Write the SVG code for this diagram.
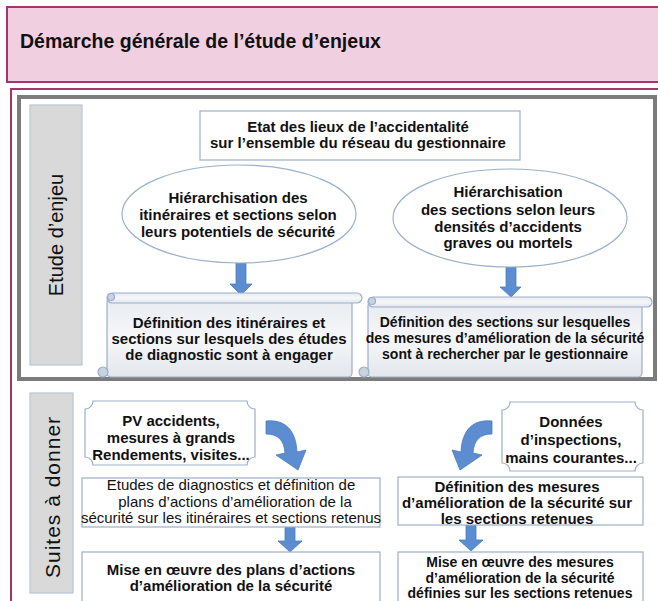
<svg xmlns="http://www.w3.org/2000/svg" width="658" height="601" viewBox="0 0 658 601">
<style>
text{font-family:"Liberation Sans",Arial,sans-serif;fill:#111;}
.b{font-weight:bold;font-size:15px;text-anchor:middle;}
.r{font-size:15px;text-anchor:middle;}
.side{font-size:20px;text-anchor:middle;}
.box{fill:#fff;stroke:#9db0c8;stroke-width:1.2;}
.ell{fill:#fff;stroke:#9db0c8;stroke-width:1.2;}
.arr{fill:#5b8dd0;stroke:#4c7dbd;stroke-width:0.8;}
.scroll{fill:url(#sg);stroke:#9aaecb;stroke-width:1.2;}
.curl{fill:#c9d2de;stroke:#9aaecb;stroke-width:1.2;}
.sidebox{fill:#d9d9d9;stroke:#b7c6d6;stroke-width:1.2;}
</style>
<defs>
<linearGradient id="sg" x1="0" y1="0" x2="0" y2="1">
<stop offset="0" stop-color="#e7ebf0"/>
<stop offset="0.5" stop-color="#f6f7f9"/>
<stop offset="1" stop-color="#e2e6eb"/>
</linearGradient>
</defs>

<g id="title">
<rect x="7" y="7" width="660" height="75" fill="#f0d0e0" stroke="#a3346e" stroke-width="2"/>
<text x="20" y="48" style="font-weight:bold;font-size:19.5px;">Démarche générale de l’étude d’enjeux</text>
</g>

<g id="frame">
<rect x="11" y="89" width="660" height="530" fill="#fff" stroke="#a3346e" stroke-width="2"/>
<rect x="19" y="97" width="636" height="282" fill="#fff" stroke="#7c7c7c" stroke-width="4"/>
</g>

<g id="side-etude">
<rect class="sidebox" x="30" y="105" width="52" height="260"/>
<text class="side" transform="translate(63,235) rotate(-90)">Etude d’enjeu</text>
</g>

<g id="side-suites">
<rect class="sidebox" x="30" y="393" width="43" height="200"/>
<text class="side" transform="translate(60,497) rotate(-90)" style="font-size:21px;letter-spacing:1px">Suites à donner</text>
</g>

<g id="connectors">
<path class="arr" d="M236 263 H246 V284 H252 L241 295 L230 284 H236 Z"/>
<path class="arr" d="M506 267 H516 V287 H521 L511 297 L500 287 H506 Z"/>
<path class="arr" d="M285 527 H295 V541 H302 L290 552 L278 541 H285 Z"/>
<path class="arr" d="M466 525 H476 V540 H483 L471 551 L459 540 H466 Z"/>
<path class="arr" d="M266 421 C285 419 296 430 297 452 L306 450 L298 470 L276 455 L285 453 C284 440 278 434 266 434 Z"/>
<path class="arr" d="M492 421 C473 419 462 430 461 452 L452 450 L460 470 L482 455 L473 453 C474 440 480 434 492 434 Z"/>
</g>

<g id="n-etat">
<rect class="box" x="200" y="111" width="320" height="49"/>
<text class="b" x="358" y="132">Etat des lieux de l’accidentalité</text>
<text class="b" x="358" y="148">sur l’ensemble du réseau du gestionnaire</text>
</g>

<g id="n-hier1">
<ellipse class="ell" cx="239" cy="214" rx="117" ry="49"/>
<text class="b" x="238" y="203">Hiérarchisation des</text>
<text class="b" x="238" y="220">itinéraires et sections selon</text>
<text class="b" x="238" y="237">leurs potentiels de sécurité</text>
</g>

<g id="n-hier2">
<ellipse class="ell" cx="510" cy="218" rx="117" ry="49"/>
<text class="b" x="508" y="197">Hiérarchisation</text>
<text class="b" x="508" y="215">des sections selon leurs</text>
<text class="b" x="508" y="232">densités d’accidents</text>
<text class="b" x="508" y="248">graves ou mortels</text>
</g>

<g id="n-def1">
<rect class="scroll" x="107" y="298" width="245" height="79" rx="4"/>
<rect class="scroll" x="107" y="293" width="255" height="10" rx="5"/>
<circle class="curl" cx="111" cy="297" r="3.5"/>
<circle class="curl" cx="103" cy="372" r="5"/>
<text class="b" x="229" y="328">Définition des itinéraires et</text>
<text class="b" x="229" y="344">sections sur lesquels des études</text>
<text class="b" x="229" y="360">de diagnostic sont à engager</text>
</g>

<g id="n-def2">
<rect class="scroll" x="368" y="302" width="274" height="75" rx="4"/>
<rect class="scroll" x="368" y="297" width="284" height="10" rx="5"/>
<circle class="curl" cx="372" cy="301" r="3.5"/>
<circle class="curl" cx="364" cy="372" r="5"/>
<text class="b" x="505" y="327" style="font-size:14px">Définition des sections sur lesquelles</text>
<text class="b" x="505" y="343" style="font-size:14px">des mesures d’amélioration de la sécurité</text>
<text class="b" x="505" y="359" style="font-size:14px">sont à rechercher par le gestionnaire</text>
</g>

<g id="n-pv">
<path class="box" d="M93 401 H247 A8 8 0 0 0 255 409 V457 A8 8 0 0 0 247 465 H93 A8 8 0 0 0 85 457 V409 A8 8 0 0 0 93 401 Z"/>
<text class="b" x="171" y="426">PV accidents,</text>
<text class="b" x="171" y="443">mesures à grands</text>
<text class="b" x="171" y="460">Rendements, visites...</text>
</g>

<g id="n-donnees">
<path class="box" d="M510 402 H635 A8 8 0 0 0 643 410 V463 A8 8 0 0 0 635 471 H510 A8 8 0 0 0 502 463 V410 A8 8 0 0 0 510 402 Z"/>
<text class="b" x="571" y="427">Données</text>
<text class="b" x="571" y="445">d’inspections,</text>
<text class="b" x="571" y="463">mains courantes...</text>
</g>

<g id="n-etudes">
<rect class="box" x="82" y="478" width="298" height="49"/>
<text class="r" x="231" y="490">Etudes de diagnostics et  définition de</text>
<text class="r" x="235" y="507">plans d’actions d’amélioration de la</text>
<text class="r" x="231" y="523">sécurité sur les itinéraires et sections retenus</text>
</g>

<g id="n-mise1">
<rect class="box" x="82" y="552" width="298" height="60"/>
<text class="b" x="231" y="575">Mise en œuvre des plans d’actions</text>
<text class="b" x="231" y="591">d’amélioration de la sécurité</text>
</g>

<g id="n-defmes">
<rect class="box" x="398" y="477" width="245" height="48"/>
<text class="b" x="517" y="492">Définition des mesures</text>
<text class="b" x="517" y="508">d’amélioration de la sécurité sur</text>
<text class="b" x="517" y="524">les sections retenues</text>
</g>

<g id="n-mise2">
<rect class="box" x="398" y="552" width="245" height="60"/>
<text class="b" x="520" y="567" style="font-size:14px">Mise en œuvre des mesures</text>
<text class="b" x="520" y="582.5" style="font-size:14px">d’amélioration de la sécurité</text>
<text class="b" x="520" y="598" style="font-size:14px">définies sur les sections retenues</text>
</g>
</svg>
